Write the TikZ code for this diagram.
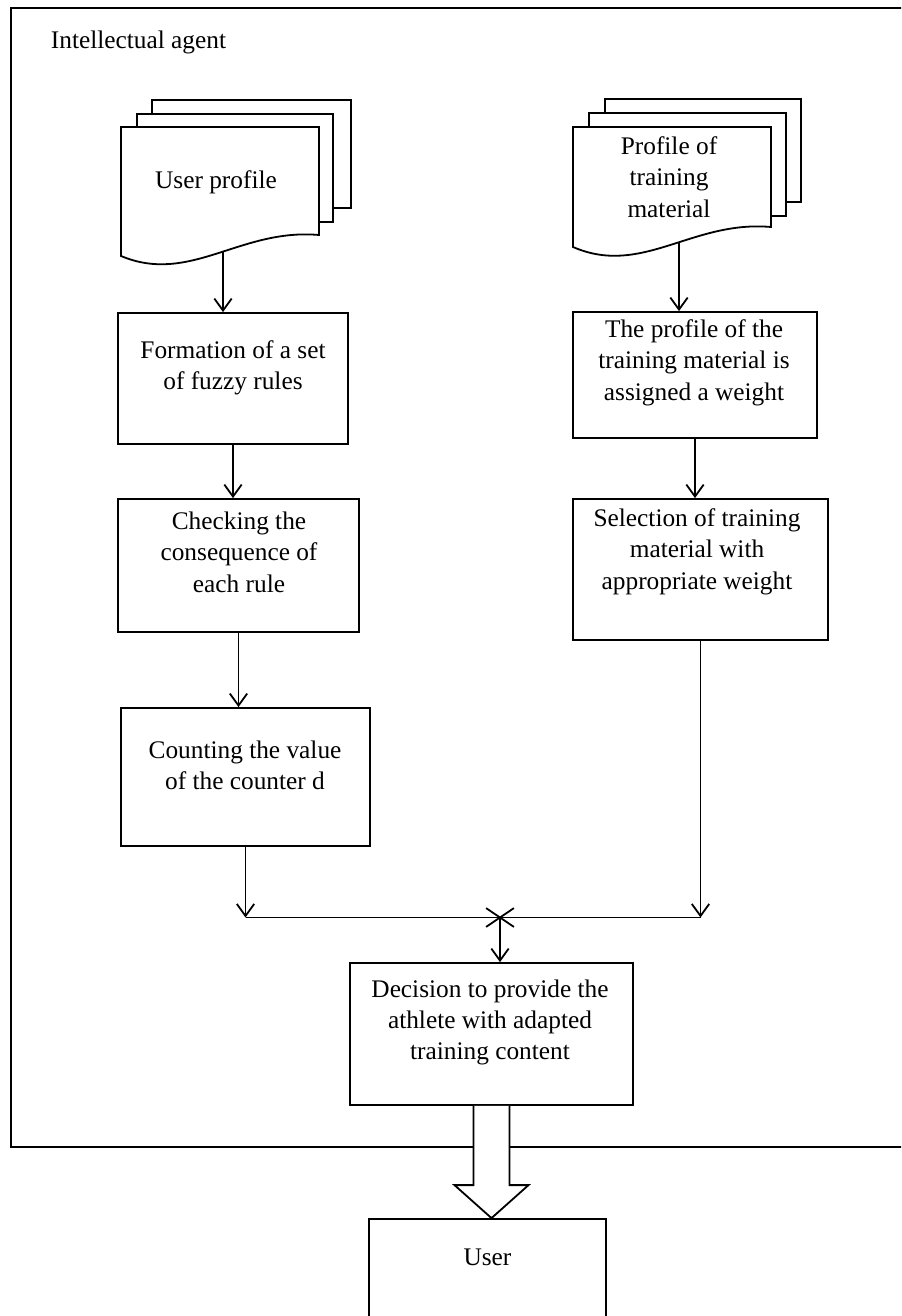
\documentclass[tikz,border=0pt]{standalone}
\usepackage{fontspec}
\setmainfont{Liberation Serif}
\usetikzlibrary{arrows.meta,shapes.misc,calc}

\begin{document}
\begin{tikzpicture}[x=0.75pt, y=-0.75pt, line width=1.35pt,
  blk/.style={draw, inner sep=0pt},
  txt/.style={align=center, inner sep=0pt, font=\fontsize{19}{23.5}\selectfont},
  pg/.style={draw, fill=white},
  arr/.style={-{Straight Barb[length=9pt, width=13pt]}},
  hollow/.style={draw, fill=white}]
\useasboundingbox (0,0) rectangle (901,1316);
\clip (0,0) rectangle (901,1316);

\draw (11,8) rectangle (940,1147);
\node[txt, anchor=west] (agent) at (50,42) {Intellectual agent};

\draw[pg] (152,100) rectangle (351,208);
\draw[pg] (137,114) rectangle (333,222);
\draw[pg] (121,127) -- (319,127) -- (319,235) .. controls (240,228) and (190,285) .. (121,256) -- cycle;
\node[txt] (usr-doc) at (216,182) {User profile};
\coordinate (usr-out) at (223,251);

\draw[pg] (605,99) rectangle (801,202);
\draw[pg] (589,113) rectangle (786,216);
\draw[pg] (573,127) -- (771,127) -- (771,227) .. controls (692,220) and (642,277) .. (573,247) -- cycle;
\node[txt] (mat-doc) at (669,177) {Profile of\\training\\material};
\coordinate (mat-out) at (679,243);

\node[blk, minimum width=172.5pt, minimum height=98.25pt] (form) at (233,378.5) {};
\node[blk, minimum width=180.75pt, minimum height=99.75pt] (check) at (238.5,565.5) {};
\node[blk, minimum width=186.75pt, minimum height=103.5pt] (count) at (245.5,777) {};
\node[blk, minimum width=183pt, minimum height=94.5pt] (prof) at (695,375) {};
\node[blk, minimum width=191.25pt, minimum height=105.75pt] (sel) at (700.5,569.5) {};
\node[blk, minimum width=212.25pt, minimum height=106.5pt] (dec) at (491.5,1034) {};
\node[blk, minimum width=177.75pt, minimum height=94.5pt] (user) at (487.5,1282) {};

\node[txt] (form-t) at (233,367.5) {Formation of a set\\of fuzzy rules};
\node[txt] (check-t) at (239,552) {Checking the\\consequence of\\each rule};
\node[txt] (count-t) at (245,765) {Counting the value\\of the counter d};
\node[txt] (prof-t) at (694,362.5) {The profile of the\\training material is\\assigned a weight};
\node[txt] (sel-t) at (697,551.5) {Selection of training\\material with\\appropriate weight};
\node[txt] (dec-t) at (490,1022.5) {Decision to provide the\\athlete with adapted\\training content};
\node[txt] (user-t) at (487.5,1257) {User};

\draw[arr] (usr-out) -- (usr-out |- form.north);
\draw[arr] (form.south) -- (form.south |- check.north);
\draw[arr] (check.south) -- (check.south |- count.north);
\draw[arr] (mat-out) -- (mat-out |- prof.north);
\draw[arr] (prof.south) -- (prof.south |- sel.north);

\node[cross out, draw, inner sep=0pt, minimum width=19.5pt, minimum height=12.75pt] (jn) at (500,917.5) {};
\coordinate (jl) at (count.south |- jn);
\coordinate (jr) at (sel.south |- jn);
\draw[arr] (count.south) -- (jl);
\draw[arr] (sel.south) -- (jr);
\draw (jl) -- (jr);
\draw[arr] (jn.center) -- (jn.center |- dec.north);

\coordinate (tip) at (dec.south |- user.north);
\draw[hollow] ($(dec.south)+(-18,0)$) |- ($(tip)+(-37,-33)$) -- (tip) -- ($(tip)+(37,-33)$) -| ($(dec.south)+(18,0)$);

\end{tikzpicture}
\end{document}
